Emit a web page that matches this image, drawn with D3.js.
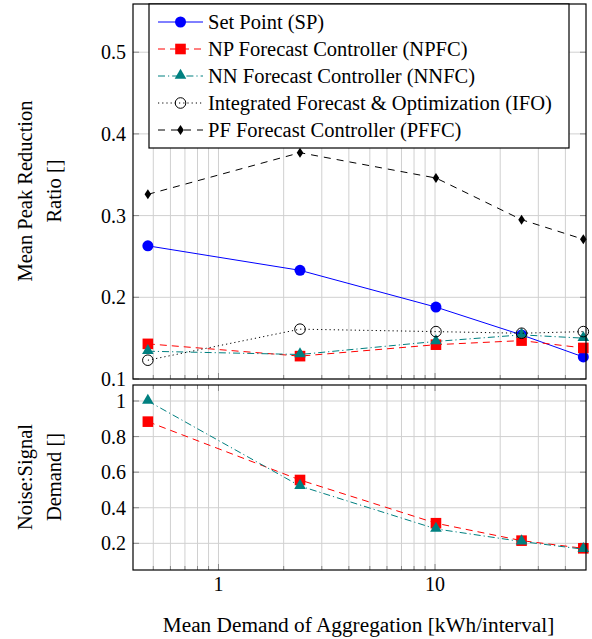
<!DOCTYPE html>
<html>
<head>
<meta charset="utf-8">
<script src="https://cdn.jsdelivr.net/npm/d3@7"></script>
<style>
  body { margin: 0; background: #fff; }
  text { font-family: "Liberation Serif", "Times New Roman", serif; fill: #000; }
</style>
</head>
<body>
<div id="chart"></div>
<script>
// aggregation sizes (x, log scale)
var demand = [0.472, 2.38, 10.1, 25.1, 48.4];

// top panel: mean peak reduction ratio
var spRatio = [0.263, 0.233, 0.188, 0.154, 0.127];
var npfcRatio = [0.143, 0.128, 0.142, 0.147, 0.138];
var nnfcRatio = [0.134, 0.130, 0.146, 0.154, 0.150];
var ifoRatio = [0.123, 0.161, 0.158, 0.156, 0.158];
var pffcRatio = [0.326, 0.377, 0.346, 0.295, 0.271];

// bottom panel: noise to signal
var npfcNoise = [0.884, 0.556, 0.313, 0.215, 0.172];
var nnfcNoise = [1.0, 0.522, 0.281, 0.21, 0.167];

var topTicks = [0.1, 0.2, 0.3, 0.4, 0.5];
var bottomTicks = [0.2, 0.4, 0.6, 0.8, 1];
var xTicks = [1, 10];

var legendLabels = [
    "Set Point (SP)",
    "NP Forecast Controller (NPFC)",
    "NN Forecast Controller (NNFC)",
    "Integrated Forecast & Optimization (IFO)",
    "PF Forecast Controller (PFFC)"
];

var width = 592, height = 639;
var left = 133, right = 586;
var fontSize = 20.5;

var x = d3.scaleLog().domain([0.403, 49.8]).range([left, right]);
var yTop = d3.scaleLinear().domain([0.1, 0.559]).range([379, 4]);
var yBot = d3.scaleLinear().domain([0.05, 1.09]).range([570, 385]);

var styles = {
    sp: { color: "#0000ff", dash: null, marker: "circle" },
    npfc: { color: "#ff0000", dash: "7,5", marker: "square" },
    nnfc: { color: "#008080", dash: "7,3,1.2,3", marker: "triangle" },
    ifo: { color: "#000", dash: "1.2,3", marker: "open" },
    pffc: { color: "#000", dash: "7,6", marker: "diamond" }
};

var svg = d3.select("#chart").append("svg")
    .attr("width", width)
    .attr("height", height);

// minor + major positions for log grid
var gridX = [];
[0.1, 1, 10].forEach(function (base) {
    for (var k = 1; k <= 9; k++) {
        var v = base * k;
        if (v >= x.domain()[0] && v <= x.domain()[1]) gridX.push(v);
    }
});

function drawPanel(y, ticks, fmt) {
    var r = y.range();
    var g = svg.append("g");
    g.selectAll("line.vgrid")
        .data(gridX)
        .enter().append("line")
        .attr("x1", d => x(d)).attr("x2", d => x(d))
        .attr("y1", r[1]).attr("y2", r[0])
        .attr("stroke", "#d0d0d0").attr("stroke-width", 1);
    g.selectAll("line.hgrid")
        .data(ticks)
        .enter().append("line")
        .attr("x1", left).attr("x2", right)
        .attr("y1", d => y(d)).attr("y2", d => y(d))
        .attr("stroke", "#d0d0d0").attr("stroke-width", 1);
    // tick marks inside the frame
    g.selectAll("line.xtb")
        .data(gridX)
        .enter().append("line")
        .attr("x1", d => x(d)).attr("x2", d => x(d))
        .attr("y1", r[0]).attr("y2", d => r[0] - (xTicks.indexOf(d) >= 0 ? 6 : 4))
        .attr("stroke", "#888").attr("stroke-width", 1);
    g.selectAll("line.xtt")
        .data(gridX)
        .enter().append("line")
        .attr("x1", d => x(d)).attr("x2", d => x(d))
        .attr("y1", r[1]).attr("y2", d => r[1] + (xTicks.indexOf(d) >= 0 ? 6 : 4))
        .attr("stroke", "#888").attr("stroke-width", 1);
    g.selectAll("line.ytl")
        .data(ticks)
        .enter().append("line")
        .attr("x1", left).attr("x2", left + 6)
        .attr("y1", d => y(d)).attr("y2", d => y(d))
        .attr("stroke", "#888").attr("stroke-width", 1);
    g.selectAll("line.ytr")
        .data(ticks)
        .enter().append("line")
        .attr("x1", right - 6).attr("x2", right)
        .attr("y1", d => y(d)).attr("y2", d => y(d))
        .attr("stroke", "#888").attr("stroke-width", 1);
    g.selectAll("text.ylab")
        .data(ticks)
        .enter().append("text")
        .attr("x", left - 7)
        .attr("y", d => y(d))
        .attr("dy", "0.35em")
        .attr("text-anchor", "end")
        .attr("font-size", 20)
        .text(fmt);
    return g;
}

function drawMarker(g, kind, color, px, py) {
    if (kind == "circle") {
        g.append("circle").attr("cx", px).attr("cy", py).attr("r", 5.5).attr("fill", color);
    } else if (kind == "open") {
        g.append("circle").attr("cx", px).attr("cy", py).attr("r", 5.3)
            .attr("fill", "none").attr("stroke", "#000").attr("stroke-width", 1);
    } else if (kind == "square") {
        g.append("rect").attr("x", px - 5.3).attr("y", py - 5.3)
            .attr("width", 10.6).attr("height", 10.6).attr("fill", color);
    } else if (kind == "triangle") {
        g.append("path")
            .attr("d", d3.symbol().type(d3.symbolTriangle).size(58)())
            .attr("transform", `translate(${px},${py - 0.5})`)
            .attr("fill", color);
    } else if (kind == "diamond") {
        g.append("path")
            .attr("d", `M0,-5 L3.3,0 L0,5 L-3.3,0 Z`)
            .attr("transform", `translate(${px},${py})`)
            .attr("fill", color);
    }
}

function drawSeries(y, values, st) {
    var g = svg.append("g");
    var pts = values.map((v, i) => [x(demand[i]), y(v)]);
    g.append("path")
        .attr("d", d3.line()(pts))
        .attr("fill", "none")
        .attr("stroke", st.color)
        .attr("stroke-width", 1)
        .attr("stroke-dasharray", st.dash);
    pts.forEach(p => drawMarker(g, st.marker, st.color, p[0], p[1]));
}

drawPanel(yTop, topTicks, d => d3.format(".1f")(d));
drawSeries(yTop, spRatio, styles.sp);
drawSeries(yTop, npfcRatio, styles.npfc);
drawSeries(yTop, nnfcRatio, styles.nnfc);
drawSeries(yTop, ifoRatio, styles.ifo);
drawSeries(yTop, pffcRatio, styles.pffc);

drawPanel(yBot, bottomTicks, d => d == 1 ? "1" : d3.format(".1f")(d));
drawSeries(yBot, npfcNoise, styles.npfc);
drawSeries(yBot, nnfcNoise, styles.nnfc);

// frames
[yTop, yBot].forEach(function (y) {
    var r = y.range();
    svg.append("rect")
        .attr("x", left).attr("y", r[1])
        .attr("width", right - left).attr("height", r[0] - r[1])
        .attr("fill", "none").attr("stroke", "#000").attr("stroke-width", 1.2);
});

// x tick labels
svg.selectAll("text.xlab")
    .data(xTicks)
    .enter().append("text")
    .attr("x", d => x(d))
    .attr("y", 591)
    .attr("text-anchor", "middle")
    .attr("font-size", 20)
    .text(d => d);

svg.append("text")
    .attr("x", (left + right) / 2 - 1)
    .attr("y", 632)
    .attr("text-anchor", "middle")
    .attr("font-size", 21.3)
    .text("Mean Demand of Aggregation [kWh/interval]");

function yTitle(lines, cy) {
    var t = svg.append("text")
        .attr("transform", `translate(25,${cy}) rotate(-90)`)
        .attr("text-anchor", "middle")
        .attr("font-size", fontSize);
    lines.forEach((s, i) => {
        t.append("tspan").attr("x", 0).attr("y", i * 29).attr("dy", "0.35em").text(s);
    });
}
yTitle(["Mean Peak Reduction", "Ratio []"], 191);
yTitle(["Noise:Signal", "Demand []"], 477);

// legend
var legendKeys = ["sp", "npfc", "nnfc", "ifo", "pffc"];
var lg = svg.append("g");
lg.append("rect")
    .attr("x", 149).attr("y", 4)
    .attr("width", 420).attr("height", 144)
    .attr("fill", "#fff").attr("stroke", "#000").attr("stroke-width", 1.2);
legendKeys.forEach(function (k, i) {
    var st = styles[k];
    var cy = 22 + i * 27;
    lg.append("line")
        .attr("x1", 158).attr("x2", 203)
        .attr("y1", cy).attr("y2", cy)
        .attr("stroke", st.color).attr("stroke-width", 1)
        .attr("stroke-dasharray", st.dash);
    drawMarker(lg, st.marker, st.color, 180.5, cy);
    lg.append("text")
        .attr("x", 208).attr("y", cy)
        .attr("dy", "0.33em")
        .attr("font-size", fontSize)
        .text(legendLabels[i]);
});
</script>
</body>
</html>
